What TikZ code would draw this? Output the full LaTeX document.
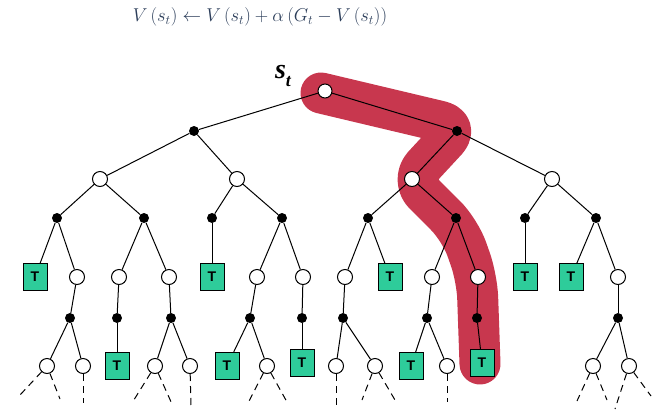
\documentclass[tikz,border=0pt]{standalone}
\usepackage{fontspec}
\newfontfamily\mcTermFont{Liberation Sans}
\newfontfamily\mcStateFont{Liberation Serif}
\definecolor{mcTermColor}{RGB}{46,204,154}
\definecolor{mcPathColor}{RGB}{200,55,78}
\definecolor{mcEqColor}{RGB}{44,62,90}
\begin{document}
\begin{tikzpicture}[x=1pt, y=-1pt,
  state/.style={circle, draw=black, fill=white, line width=1pt, inner sep=0pt, minimum size=15pt},
  chance/.style={circle, fill=black, inner sep=0pt, minimum size=10pt},
  term/.style={rectangle, draw=black, fill=mcTermColor, line width=1pt, inner sep=0pt,
    minimum width=24pt, minimum height=27pt, font=\mcTermFont\bfseries\fontsize{14}{14}\selectfont},
  edge/.style={draw=black, line width=1pt},
  tail/.style={draw=black, line width=1pt, dash pattern=on 7pt off 5pt}]
% Monte Carlo backup diagram
\useasboundingbox (0,0) rectangle (670,416);
% Update rule
\node[text=mcEqColor, font=\fontsize{17.28}{21}\selectfont] (eq) at (260,17)
  {\scalebox{1.075}{$V\left(s_t\right) \leftarrow V\left(s_t\right) + \alpha\left(G_t - V\left(s_t\right)\right)$}};
% Sampled episode (highlight)
\draw[draw=mcPathColor, line width=41pt, line cap=round, line join=round, rounded corners=20pt]
  (321,93) -- (460,126) -- (410,180) -- (460,230) -- (477,278) -- (480,364);
% Root and first levels
\node[state, minimum size=14pt] (r) at (325,91) {};
\node[font=\mcStateFont\bfseries\itshape\fontsize{28}{28}\selectfont] (st) at (283,76)
  {s\raisebox{-0.3em}{\fontsize{18}{18}\selectfont t}};
\node[chance] (a1) at (194,131) {};
\node[chance] (a2) at (457,131) {};
\node[state] (b1) at (100,179) {};
\node[state] (b2) at (237,179) {};
\node[state] (b3) at (412,179) {};
\node[state] (b4) at (552,179) {};
\node[chance] (c1) at (57,218) {};
\node[chance] (c2) at (144,218) {};
\node[chance] (c3) at (212,218) {};
\node[chance] (c4) at (282,218) {};
\node[chance] (c5) at (368,218) {};
\node[chance] (c6) at (456,218) {};
\node[chance] (c7) at (525,218) {};
\node[chance] (c8) at (596,218) {};
% Fourth level
\node[term] (d1) at (35,277) {T};
\node[state] (d2) at (77,277) {};
\node[state] (d3) at (119,277) {};
\node[state] (d4) at (169,277) {};
\node[term] (d5) at (212,277) {T};
\node[state] (d6) at (257,277) {};
\node[state] (d7) at (303,277) {};
\node[state] (d8) at (345,277) {};
\node[term] (d9) at (390,277) {T};
\node[state] (d10) at (432,277) {};
\node[state] (d11) at (478,277) {};
\node[term] (d12) at (525,277) {T};
\node[term] (d13) at (571,277) {T};
\node[state] (d14) at (618,277) {};
% Fifth level
\node[chance] (e1) at (70,318) {};
\node[chance] (e2) at (117,318) {};
\node[chance] (e3) at (171,318) {};
\node[chance] (e4) at (250,318) {};
\node[chance] (e5) at (302,318) {};
\node[chance] (e6) at (343,318) {};
\node[chance] (e7) at (427,318) {};
\node[chance] (e8) at (477,318) {};
\node[chance] (e9) at (618,318) {};
% Sixth level
\node[state] (f1) at (47,366) {};
\node[state] (f2) at (83,366) {};
\node[term] (f3) at (117,366) {T};
\node[state] (f4) at (155,366) {};
\node[state] (f5) at (190,366) {};
\node[term] (f6) at (227,366) {T};
\node[state] (f7) at (267,366) {};
\node[term] (f8) at (302,363) {T};
\node[state] (f9) at (336,366) {};
\node[state] (f10) at (375,366) {};
\node[term] (f11) at (411,366) {T};
\node[state] (f12) at (447,366) {};
\node[term] (f13) at (482,363) {T};
\node[state] (f14) at (593,366) {};
\node[state] (f15) at (629,366) {};
% Loose ends
\coordinate (g1) at (20,395);
\coordinate (g2) at (60,399);
\coordinate (g3) at (83,403);
\coordinate (g4) at (132,403);
\coordinate (g5) at (172,404);
\coordinate (g6) at (191,408);
\coordinate (g7) at (247,405);
\coordinate (g8) at (287,402);
\coordinate (g9) at (336,405);
\coordinate (g10) at (362,400);
\coordinate (g11) at (395,400);
\coordinate (g12) at (447,402);
\coordinate (g13) at (577,401);
\coordinate (g14) at (607,400);
\coordinate (g15) at (615,409);
\coordinate (g16) at (651,396);
% Edges
\begin{scope}
  \draw[edge] (r) -- (a1);
  \draw[edge] (r) -- (a2);
  \draw[edge] (a1) -- (b1);
  \draw[edge] (a1) -- (b2);
  \draw[edge] (a2) -- (b3);
  \draw[edge] (a2) -- (b4);
  \draw[edge] (b1) -- (c1);
  \draw[edge] (b1) -- (c2);
  \draw[edge] (b2) -- (c3);
  \draw[edge] (b2) -- (c4);
  \draw[edge] (b3) -- (c5);
  \draw[edge] (b3) -- (c6);
  \draw[edge] (b4) -- (c7);
  \draw[edge] (b4) -- (c8);
  \draw[edge] (c1) -- (d1);
  \draw[edge] (c1) -- (d2);
  \draw[edge] (c2) -- (d3);
  \draw[edge] (c2) -- (d4);
  \draw[edge] (c3) -- (d5);
  \draw[edge] (c4) -- (d6);
  \draw[edge] (c4) -- (d7);
  \draw[edge] (c5) -- (d8);
  \draw[edge] (c5) -- (d9);
  \draw[edge] (c6) -- (d10);
  \draw[edge] (c6) -- (d11);
  \draw[edge] (c7) -- (d12);
  \draw[edge] (c8) -- (d13);
  \draw[edge] (c8) -- (d14);
  \draw[edge] (d2) -- (e1);
  \draw[edge] (d3) -- (e2);
  \draw[edge] (d4) -- (e3);
  \draw[edge] (d6) -- (e4);
  \draw[edge] (d7) -- (e5);
  \draw[edge] (d8) -- (e6);
  \draw[edge] (d10) -- (e7);
  \draw[edge] (d11) -- (e8);
  \draw[edge] (d14) -- (e9);
  \draw[edge] (e1) -- (f1);
  \draw[edge] (e1) -- (f2);
  \draw[edge] (e2) -- (f3);
  \draw[edge] (e3) -- (f4);
  \draw[edge] (e3) -- (f5);
  \draw[edge] (e4) -- (f6);
  \draw[edge] (e4) -- (f7);
  \draw[edge] (e5) -- (f8);
  \draw[edge] (e6) -- (f9);
  \draw[edge] (e6) -- (f10);
  \draw[edge] (e7) -- (f11);
  \draw[edge] (e7) -- (f12);
  \draw[edge] (e8) -- (f13);
  \draw[edge] (e9) -- (f14);
  \draw[edge] (e9) -- (f15);
\end{scope}
% Dashed continuations
\begin{scope}
  \draw[tail] (f1) -- (g1);
  \draw[tail] (f1) -- (g2);
  \draw[tail] (f2) -- (g3);
  \draw[tail] (f4) -- (g4);
  \draw[tail] (f4) -- (g5);
  \draw[tail] (f5) -- (g6);
  \draw[tail] (f7) -- (g7);
  \draw[tail] (f7) -- (g8);
  \draw[tail] (f9) -- (g9);
  \draw[tail] (f10) -- (g10);
  \draw[tail] (f10) -- (g11);
  \draw[tail] (f12) -- (g12);
  \draw[tail] (f14) -- (g13);
  \draw[tail] (f14) -- (g14);
  \draw[tail] (f15) -- (g15);
  \draw[tail] (f15) -- (g16);
\end{scope}
\end{tikzpicture}
\end{document}
